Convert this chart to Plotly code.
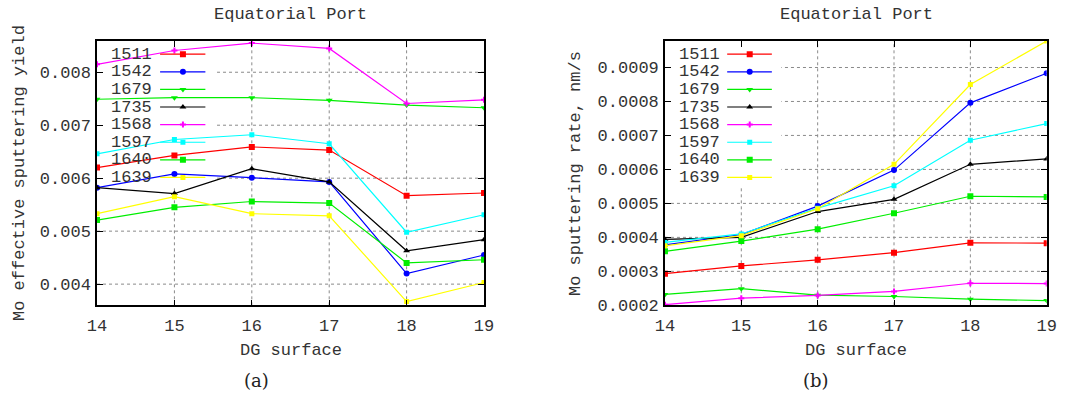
import plotly.graph_objects as go

# ---------------- data ----------------
surfaces = [14, 15, 16, 17, 18, 19]
series_names = ["1511", "1542", "1679", "1735", "1568", "1597", "1640", "1639"]

# (a) Mo effective sputtering yield
yield_1511 = [0.00620, 0.00643, 0.00659, 0.00653, 0.00567, 0.00572]
yield_1542 = [0.00582, 0.00608, 0.00601, 0.00593, 0.00420, 0.00455]
yield_1679 = [0.00749, 0.00752, 0.00752, 0.00747, 0.00738, 0.00733]
yield_1735 = [0.00582, 0.00571, 0.00618, 0.00593, 0.00463, 0.00484]
yield_1568 = [0.00815, 0.00841, 0.00855, 0.00845, 0.00741, 0.00748]
yield_1597 = [0.00646, 0.00673, 0.00682, 0.00665, 0.00498, 0.00531]
yield_1640 = [0.00521, 0.00545, 0.00556, 0.00553, 0.00440, 0.00446]
yield_1639 = [0.00533, 0.00565, 0.00533, 0.00529, 0.00367, 0.00403]

# (b) Mo sputtering rate, nm/s
rate_1511 = [0.000293, 0.000316, 0.000334, 0.000355, 0.000384, 0.000383]
rate_1542 = [0.000378, 0.000408, 0.000492, 0.000598, 0.000796, 0.000883]
rate_1679 = [0.000232, 0.000249, 0.000230, 0.000226, 0.000218, 0.000214]
rate_1735 = [0.000394, 0.000400, 0.000476, 0.000512, 0.000615, 0.000631]
rate_1568 = [0.000202, 0.000221, 0.000229, 0.000241, 0.000265, 0.000264]
rate_1597 = [0.000385, 0.000410, 0.000486, 0.000552, 0.000686, 0.000735]
rate_1640 = [0.000359, 0.000389, 0.000424, 0.000471, 0.000521, 0.000519]
rate_1639 = [0.000375, 0.000405, 0.000484, 0.000615, 0.000850, 0.000978]

yield_series = [yield_1511, yield_1542, yield_1679, yield_1735,
                yield_1568, yield_1597, yield_1640, yield_1639]
rate_series = [rate_1511, rate_1542, rate_1679, rate_1735,
               rate_1568, rate_1597, rate_1640, rate_1639]

yield_ticks = [0.004, 0.005, 0.006, 0.007, 0.008]
rate_ticks = [0.0002, 0.0003, 0.0004, 0.0005, 0.0006, 0.0007, 0.0008, 0.0009]

# ---------------- styles ----------------
colors = ["#ff0000", "#0000ff", "#00ee00", "#000000",
          "#ff00ff", "#00ffff", "#00ee00", "#ffff00"]
symbols = ["square", "circle", "triangle-down", "triangle-up",
           "cross", "square", "square", "square"]
msizes = [6, 6, 6, 6, 5, 5, 6, 5]

MONO = "Liberation Mono, Courier New, monospace"
TXT = "#333333"
FS = 17
GRID = "#8a8a8a"

fig = go.Figure()

panels = [
    dict(xa="x", ya="y", xo="x3", yo="y3", data=yield_series,
         yr=[0.0036, 0.00859], yt=yield_ticks),
    dict(xa="x2", ya="y2", xo="x4", yo="y4", data=rate_series,
         yr=[0.0002, 0.000978], yt=rate_ticks),
]

for p in panels:
    for i, name in enumerate(series_names):
        fig.add_trace(go.Scatter(
            x=surfaces, y=p["data"][i], mode="lines+markers", name=name,
            line=dict(color=colors[i], width=1.2),
            marker=dict(symbol=symbols[i], size=msizes[i], color=colors[i]),
            xaxis=p["xa"], yaxis=p["ya"], showlegend=False))

# dotted grid (drawn as shapes so the key box can mask it, gnuplot style)
for p in panels:
    for xv in surfaces[1:-1]:
        fig.add_shape(type="line", xref=p["xa"], yref=p["ya"] + " domain",
                      x0=xv, x1=xv, y0=0, y1=1, layer="below",
                      line=dict(color=GRID, width=1, dash="dot"))
    for yv in p["yt"]:
        if p["yr"][0] < yv < p["yr"][1]:
            fig.add_shape(type="line", xref=p["xa"] + " domain", yref=p["ya"],
                          x0=0, x1=1, y0=yv, y1=yv, layer="below",
                          line=dict(color=GRID, width=1, dash="dot"))
    # white key box hiding the grid
    fig.add_shape(type="rect", xref=p["xa"] + " domain", yref=p["ya"] + " domain",
                  x0=0, x1=0.305, y0=0.45, y1=1, fillcolor="white",
                  line=dict(width=0), layer="below")

# gnuplot-style key (text, then line sample with marker) on overlay axes
row_top, row_step = 0.950, 0.0666
line_x0, line_x1, mark_x, text_x = 0.163, 0.280, 0.222, 0.031
for p in panels:
    for i, name in enumerate(series_names):
        yy = row_top - i * row_step
        fig.add_trace(go.Scatter(
            x=[line_x0, line_x1], y=[yy, yy], mode="lines",
            line=dict(color=colors[i], width=1.2),
            xaxis=p["xo"], yaxis=p["yo"], showlegend=False, hoverinfo="skip"))
        fig.add_trace(go.Scatter(
            x=[mark_x], y=[yy], mode="markers",
            marker=dict(symbol=symbols[i], size=msizes[i], color=colors[i]),
            xaxis=p["xo"], yaxis=p["yo"], showlegend=False, hoverinfo="skip"))
        fig.add_annotation(x=text_x, y=yy, xref=p["xo"], yref=p["yo"],
                           text=name, showarrow=False, xanchor="left",
                           yanchor="middle", font=dict(family=MONO, size=FS, color=TXT))

ydom = [0.229, 0.8965]
common_x = dict(range=[14, 19], tickvals=surfaces, ticks="inside", ticklen=6,
                tickcolor="black", showline=True, linecolor="black", linewidth=1.5,
                mirror="ticks", showgrid=False, zeroline=False, ticklabelstandoff=4,
                automargin=False,
                tickfont=dict(family=MONO, size=FS, color=TXT))
common_y = dict(ticks="inside", ticklen=6, tickcolor="black", showline=True,
                linecolor="black", linewidth=1.5, mirror="ticks", showgrid=False,
                zeroline=False, automargin=False, ticklabelstandoff=1,
                tickfont=dict(family=MONO, size=FS, color=TXT),
                domain=ydom)
hidden = dict(range=[0, 1], visible=False, automargin=False)

fig.update_layout(
    width=1072, height=396, margin=dict(l=0, r=0, t=0, b=0, autoexpand=False),
    plot_bgcolor="white", paper_bgcolor="white",
    xaxis=dict(domain=[0.0905, 0.4515], anchor="y", **common_x),
    yaxis=dict(anchor="x", range=panels[0]["yr"], tickvals=yield_ticks,
               tickformat=".3f", **common_y),
    xaxis2=dict(domain=[0.6203, 0.9764], anchor="y2", **common_x),
    yaxis2=dict(anchor="x2", range=panels[1]["yr"], tickvals=rate_ticks,
                tickformat=".4f", **common_y),
    xaxis3=dict(overlaying="x", anchor="y3", **hidden),
    yaxis3=dict(overlaying="y", anchor="x3", **hidden),
    xaxis4=dict(overlaying="x2", anchor="y4", **hidden),
    yaxis4=dict(overlaying="y2", anchor="x4", **hidden),
)

def label(text, x, y, angle=0, family=MONO, size=FS, color=TXT):
    fig.add_annotation(text=text, x=x, y=y, xref="paper", yref="paper",
                       showarrow=False, textangle=angle, xanchor="center",
                       yanchor="middle", font=dict(family=family, size=size, color=color))

H, W = 396.0, 1072.0
label("Equatorial Port", 290.5 / W, 1 - 15 / H)
label("Equatorial Port", 856 / W, 1 - 15 / H)
label("DG surface", 290.5 / W, 1 - 350 / H)
label("DG surface", 856 / W, 1 - 350 / H)
label("Mo effective sputtering yield", 19 / W, 1 - 173 / H, angle=-90)
label("Mo sputtering rate, nm/s", 575 / W, 1 - 174 / H, angle=-90)
label("(a)", 256.5 / W, 1 - 380 / H, family="DejaVu Serif", size=18, color="#222")
label("(b)", 816 / W, 1 - 380 / H, family="DejaVu Serif", size=18, color="#222")

fig.write_html("out.html")
